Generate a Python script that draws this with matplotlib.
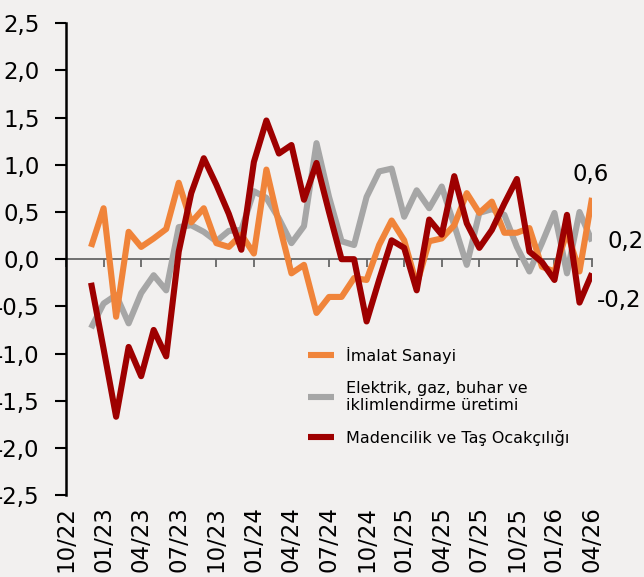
import numpy as np
import matplotlib.pyplot as plt
from matplotlib.ticker import MultipleLocator, FuncFormatter

# monthly change, %  (12/22 .. 04/26)
months = ['12/22', '01/23', '02/23', '03/23', '04/23', '05/23', '06/23', '07/23', '08/23',
          '09/23', '10/23', '11/23', '12/23', '01/24', '02/24', '03/24', '04/24', '05/24',
          '06/24', '07/24', '08/24', '09/24', '10/24', '11/24', '12/24', '01/25', '02/25',
          '03/25', '04/25', '05/25', '06/25', '07/25', '08/25', '09/25', '10/25', '11/25',
          '12/25', '01/26', '02/26', '03/26', '04/26']

imalat = [0.13, 0.54, -0.61, 0.29, 0.13, 0.22, 0.32, 0.81, 0.39, 0.54, 0.17, 0.13, 0.26,
          0.06, 0.95, 0.38, -0.15, -0.06, -0.57, -0.40, -0.40, -0.20, -0.22, 0.15, 0.41,
          0.20, -0.27, 0.19, 0.22, 0.36, 0.70, 0.49, 0.61, 0.28, 0.28, 0.33, -0.08, -0.13,
          0.29, -0.13, 0.65]

elektrik = [-0.73, -0.47, -0.38, -0.68, -0.36, -0.17, -0.33, 0.34, 0.36, 0.29, 0.19, 0.30,
            0.31, 0.72, 0.65, 0.43, 0.17, 0.35, 1.23, 0.66, 0.19, 0.15, 0.66, 0.93, 0.96,
            0.45, 0.73, 0.54, 0.77, 0.36, -0.06, 0.49, 0.53, 0.47, 0.13, -0.13, 0.17, 0.49,
            -0.15, 0.50, 0.19]

madencilik = [-0.25, -0.95, -1.67, -0.93, -1.24, -0.75, -1.03, 0.08, 0.70, 1.07, 0.79, 0.48,
              0.10, 1.03, 1.47, 1.12, 1.21, 0.63, 1.02, 0.50, 0.00, 0.00, -0.66, -0.22, 0.20,
              0.12, -0.33, 0.42, 0.26, 0.88, 0.38, 0.12, 0.31, 0.59, 0.85, 0.08, -0.03, -0.22,
              0.47, -0.46, -0.15]

tick_labels = ['10/22', '01/23', '04/23', '07/23', '10/23', '01/24', '04/24', '07/24',
               '10/24', '01/25', '04/25', '07/25', '10/25', '01/26', '04/26']

series_names = ['İmalat Sanayi', 'Elektrik, gaz, buhar ve\niklimlendirme üretimi',
                'Madencilik ve Taş Ocakçılığı']
end_labels = ['0,6', '0,2', '-0,2']


def month_pos(lbl):
    # months counted from 10/22
    m, y = lbl.split('/')
    return (int(y) - 22) * 12 + int(m) - 10


x = np.array([month_pos(m) for m in months])
xt = [month_pos(t) for t in tick_labels]

bg = '#f2f0ef'
c_or = '#f0843a'
c_gr = '#a6a6a6'
c_rd = '#9e0000'

plt.rcParams['font.family'] = 'DejaVu Sans'

fig = plt.figure(figsize=(6.44, 5.77), dpi=100, facecolor=bg)
ax = fig.add_axes([0.1025, 0.142, 0.8168, 0.8176])
ax.set_facecolor(bg)

lw = 4.4
l_gr, = ax.plot(x, elektrik, color=c_gr, lw=lw, solid_joinstyle='round', solid_capstyle='butt')
l_or, = ax.plot(x, imalat, color=c_or, lw=lw, solid_joinstyle='round', solid_capstyle='butt')
l_rd, = ax.plot(x, madencilik, color=c_rd, lw=lw, solid_joinstyle='round', solid_capstyle='butt')

ax.set_xlim(0, 42)
ax.set_ylim(-2.5, 2.5)

for s in ['top', 'right']:
    ax.spines[s].set_visible(False)
ax.spines['left'].set_color('black')
ax.spines['left'].set_linewidth(1.8)
ax.spines['bottom'].set_position(('data', 0))
ax.spines['bottom'].set_color('#666666')
ax.spines['bottom'].set_linewidth(1.3)
ax.spines['bottom'].set_zorder(1)

ax.set_xticks(xt)
ax.tick_params(axis='x', direction='out', length=6, width=1.3, color='#666666',
               labelbottom=False)
ax.yaxis.set_major_locator(MultipleLocator(0.5))
ax.yaxis.set_major_formatter(FuncFormatter(lambda v, p: f'{v:.1f}'.replace('.', ',')))
ax.tick_params(axis='y', direction='out', length=8, width=1.5, labelsize=16.5, pad=11)

sec = ax.secondary_xaxis('bottom')
sec.set_xticks(xt, tick_labels)
sec.tick_params(length=0, pad=8, labelsize=16.5, labelrotation=90)
sec.spines['bottom'].set_visible(False)

# end-of-series labels
ax.annotate(end_labels[0], (x[-1], imalat[-1]), xytext=(-1, 17), textcoords='offset points',
            ha='center', va='center', fontsize=16.5)
ax.annotate(end_labels[1], (x[-1], elektrik[-1]), xytext=(11, 0), textcoords='offset points',
            ha='left', va='center', fontsize=16.5, annotation_clip=False)
ax.annotate(end_labels[2], (x[-1], madencilik[-1]), xytext=(3.5, -19.5),
            textcoords='offset points', ha='left', va='center', fontsize=16.5,
            annotation_clip=False)

ax.legend([l_or, l_gr, l_rd], series_names, loc='upper left',
          bbox_to_anchor=(308 / 644, 1 - 347 / 577), bbox_transform=fig.transFigure,
          frameon=False, fontsize=11.5, handlelength=1.6, handletextpad=0.75,
          labelspacing=1.05, borderpad=0, borderaxespad=0)

fig.savefig('out.png', dpi=100, facecolor=bg)
